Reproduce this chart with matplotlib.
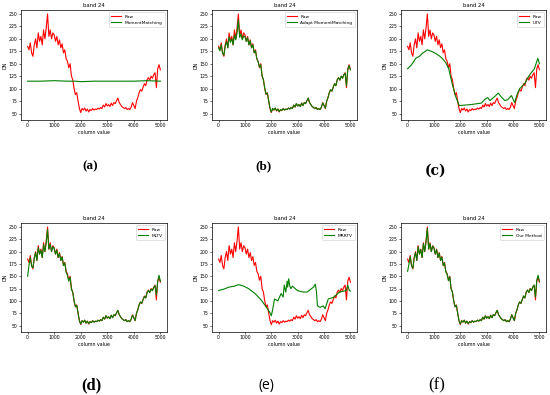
import numpy as np
import matplotlib
matplotlib.use('Agg')
import matplotlib.pyplot as plt

# column positions (every 50 columns) for the raw band and the close-fitting methods
cols = list(range(0, 5001, 50))

raw = [185, 178, 192, 172, 165, 188, 200, 182, 212, 195,
       205, 188, 218, 200, 222, 250, 205, 218, 200, 212,
       208, 195, 205, 188, 198, 182, 190, 172, 178, 160,
       155, 142, 150, 125, 118, 100, 88, 92, 75, 60,
       52, 60, 57, 61, 55, 59, 53, 58, 56, 60,
       57, 59, 58, 61, 59, 62, 60, 67, 63, 70,
       65, 68, 64, 71, 66, 72, 70, 76, 81, 72,
       68, 64, 62, 60, 62, 58, 60, 58, 63, 72,
       66, 60, 75, 82, 92, 98, 95, 103, 110, 106,
       118, 122, 117, 125, 121, 128, 132, 102, 140, 148,
       138]

adapt_mm = [182, 176, 188, 172, 167, 185, 195, 182, 204, 193,
            200, 188, 208, 198, 212, 238, 203, 210, 198, 206,
            204, 195, 202, 188, 196, 182, 188, 172, 176, 160,
            154, 143, 148, 126, 118, 101, 89, 91, 76, 61,
            53, 60, 57, 61, 56, 59, 54, 58, 56, 60,
            57, 59, 58, 61, 59, 62, 60, 67, 63, 70,
            65, 68, 64, 71, 66, 72, 70, 76, 81, 72,
            68, 64, 62, 60, 62, 58, 60, 58, 63, 71,
            66, 61, 75, 82, 92, 98, 95, 103, 110, 106,
            118, 122, 117, 125, 121, 128, 131, 106, 138, 146,
            138]

mltv = [150, 172, 188, 170, 167, 186, 198, 182, 208, 195,
        203, 188, 214, 200, 218, 245, 205, 214, 200, 210,
        206, 195, 203, 188, 196, 182, 189, 172, 177, 158,
        152, 140, 148, 124, 117, 100, 88, 91, 75, 60,
        53, 60, 57, 61, 55, 59, 54, 58, 56, 60,
        57, 59, 58, 61, 59, 62, 60, 67, 63, 70,
        65, 68, 64, 71, 66, 72, 70, 76, 81, 72,
        68, 64, 62, 60, 62, 58, 60, 58, 63, 71,
        66, 60, 75, 82, 92, 98, 95, 103, 109, 106,
        117, 121, 117, 124, 121, 127, 131, 112, 140, 152,
        140]

ours = [160, 174, 190, 171, 166, 187, 198, 182, 210, 195,
        204, 188, 216, 200, 220, 247, 205, 216, 200, 211,
        207, 195, 204, 188, 197, 182, 189, 172, 177, 159,
        154, 141, 149, 125, 118, 100, 88, 91, 75, 60,
        53, 60, 57, 61, 55, 59, 54, 58, 56, 60,
        57, 59, 58, 61, 59, 62, 60, 67, 63, 70,
        65, 68, 64, 71, 66, 72, 70, 76, 81, 72,
        68, 64, 62, 60, 62, 58, 60, 58, 63, 72,
        66, 60, 75, 82, 92, 98, 95, 103, 110, 106,
        118, 122, 117, 125, 121, 128, 132, 108, 142, 152,
        140]

# smoother / offset results
mm_cols = [0, 500, 1000, 1500, 1800, 2000, 2500, 3000, 3500, 4000, 4500, 5000]
mm_vals = [115, 115, 116, 115, 115, 114, 115, 115, 115, 115, 116, 115]

utv_cols = [0, 150, 310, 450, 560, 650, 750, 900, 1060, 1200, 1310, 1450, 1560,
            1690, 1810, 1960, 2400, 2800, 2940, 3040, 3120, 3300, 3440, 3560, 3690,
            3800, 3940, 4060, 4150, 4250, 4440, 4620, 4810, 4940, 5000]
utv_vals = [140, 148, 161, 165, 171, 174, 178, 175, 171, 166, 161, 152, 140,
            110, 86, 66, 68, 71, 79, 82, 76, 84, 91, 83, 76,
            78, 86, 72, 88, 100, 110, 127, 140, 161, 150]

mrr_cols = [0, 200, 395, 600, 765, 950, 1135, 1380, 1630, 1815, 1950, 2000, 2050,
            2120, 2250, 2370, 2450, 2490, 2550, 2600, 2620, 2660, 2700, 2740, 2800,
            2990, 3200, 3360, 3600, 3670, 3710, 3750, 3850, 3970, 4040, 4160, 4350,
            4590, 4840, 4900, 4960, 5000]
mrr_vals = [121, 124, 128, 130, 133, 130, 125, 115, 101, 87, 76, 70, 82,
            104, 100, 115, 108, 132, 118, 140, 128, 145, 130, 125, 130,
            121, 118, 118, 128, 134, 120, 90, 87, 90, 84, 104, 107,
            118, 121, 132, 121, 120]

# name, x, y, panel tag, tag style
methods = [
    ('MomentMatching', mm_cols, mm_vals, '(a)', dict(fontsize=9.5, fontweight='bold', family='Liberation Serif')),
    ('Adapt MomentMatching', cols, adapt_mm, '(b)', dict(fontsize=9.5, fontweight='bold', family='Liberation Serif')),
    ('UTV', utv_cols, utv_vals, '(c)', dict(fontsize=10, fontweight='bold', family='DejaVu Serif')),
    ('MLTV', cols, mltv, '(d)', dict(fontsize=12, fontweight='bold', family='Liberation Serif')),
    ('MRRTV', mrr_cols, mrr_vals, '(e)', dict(fontsize=10, family='Open Sans')),
    ('Our Method', cols, ours, '(f)', dict(fontsize=12, family='Liberation Serif')),
]

W, H = 550, 395
fig = plt.figure(figsize=(5.5, 3.95), dpi=100)

# axes boxes in pixels: left, right, top, bottom
boxes = [(21, 167, 10, 120), (212, 357, 10, 120), (401, 546, 10, 120),
         (21, 167, 223, 332), (212, 357, 223, 332), (401, 546, 223, 332)]
label_pos = [(90, 166), (263, 166), (436, 171), (91, 385), (266, 385), (437, 385)]

for (name, xs, ys, tag, style), (l, r, t, b), (lx, ly) in zip(methods, boxes, label_pos):
    ax = fig.add_axes([l / W, 1 - b / H, (r - l) / W, (b - t) / H])
    ax.plot(cols, raw, color='red', lw=0.8, label='Raw')
    ax.plot(xs, ys, color='green', lw=0.8, label=name)
    ax.set_xlim(-250, 5250)
    ax.set_ylim(37, 258)
    ax.set_xticks([0, 1000, 2000, 3000, 4000, 5000])
    ax.set_yticks([50, 75, 100, 125, 150, 175, 200, 225, 250])
    ax.tick_params(labelsize=3.3, length=1.5, width=0.4, pad=1)
    for s in ax.spines.values():
        s.set_linewidth(0.5)
    ax.set_title('band 24', fontsize=3.8, pad=2)
    ax.set_xlabel('column value', fontsize=3.4, labelpad=1)
    ax.set_ylabel('DN', fontsize=3.4, labelpad=1)
    leg = ax.legend(loc='upper right', fontsize=3.2, handlelength=2.2, borderpad=0.5,
                    labelspacing=0.5, framealpha=1)
    leg.get_frame().set_linewidth(0.4)
    fig.text(lx / W, 1 - ly / H, tag, ha='center', va='center', **style)

fig.savefig('out.png', dpi=100)
